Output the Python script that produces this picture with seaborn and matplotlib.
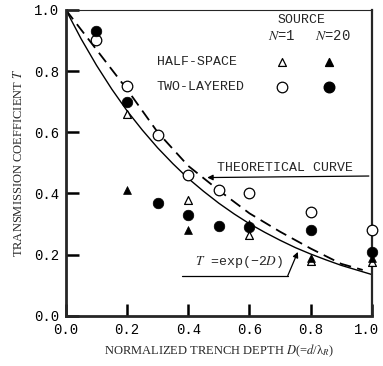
import matplotlib
matplotlib.use("Agg")
import matplotlib.pyplot as plt
import matplotlib.transforms as mtransforms
import seaborn as sns

# ---- data ----
depth_ticks = [0.0, 0.2, 0.4, 0.6, 0.8, 1.0]
tick_labels = ["0.0", "0.2", "0.4", "0.6", "0.8", "1.0"]

two_n1_x = [0.1, 0.2, 0.3, 0.4, 0.5, 0.6, 0.8, 1.0]
two_n1_y = [0.90, 0.75, 0.59, 0.46, 0.41, 0.40, 0.34, 0.28]

two_n20_x = [0.1, 0.2, 0.3, 0.4, 0.5, 0.6, 0.8, 1.0]
two_n20_y = [0.93, 0.70, 0.37, 0.33, 0.295, 0.29, 0.28, 0.21]

half_n1_x = [0.2, 0.4, 0.6, 0.8, 1.0]
half_n1_y = [0.66, 0.38, 0.265, 0.18, 0.175]

half_n20_x = [0.2, 0.4, 0.6, 0.8, 1.0]
half_n20_y = [0.41, 0.28, 0.30, 0.19, 0.19]

theory_x = [0.0, 0.05, 0.1, 0.2, 0.3, 0.4, 0.5, 0.6, 0.7, 0.8, 0.9, 0.97]
theory_y = [1.0, 0.935, 0.87, 0.74, 0.60, 0.49, 0.41, 0.335, 0.275, 0.22, 0.17, 0.15]

exp_x = [0.0, 0.05, 0.1, 0.15, 0.2, 0.25, 0.3, 0.35, 0.4, 0.45, 0.5,
         0.55, 0.6, 0.65, 0.7, 0.75, 0.8, 0.85, 0.9, 0.95, 1.0]
exp_y = [1.000, 0.905, 0.819, 0.741, 0.670, 0.607, 0.549, 0.497, 0.449, 0.407, 0.368,
         0.333, 0.301, 0.273, 0.247, 0.223, 0.202, 0.183, 0.165, 0.150, 0.135]

# ---- style ----
sns.set_style("ticks")
plt.rcParams["font.family"] = ["Liberation Mono", "DejaVu Sans Mono"]
plt.rcParams["mathtext.fontset"] = "stix"

fig = plt.figure(figsize=(3.83, 3.66), dpi=100)
ax = fig.add_axes([0.172, 0.137, 0.799, 0.836])

# curves
sns.lineplot(x=exp_x, y=exp_y, ax=ax, color="black", lw=1.0, sort=False)
sns.lineplot(x=theory_x, y=theory_y, ax=ax, color="black", lw=1.3, sort=False,
             dashes=False)
ax.lines[-1].set_dashes((6.5, 3.5))

ms_c = 58
ms_t = 32
sns.scatterplot(x=two_n1_x, y=two_n1_y, ax=ax, marker="o", s=ms_c,
                facecolor="white", edgecolor="black", linewidth=0.9, clip_on=False, zorder=5)
sns.scatterplot(x=half_n1_x, y=half_n1_y, ax=ax, marker="^", s=ms_t,
                facecolor="white", edgecolor="black", linewidth=0.9, clip_on=False, zorder=5)
sns.scatterplot(x=two_n20_x, y=two_n20_y, ax=ax, marker="o", s=ms_c,
                color="black", edgecolor="black", linewidth=0.5, clip_on=False, zorder=6)
sns.scatterplot(x=half_n20_x, y=half_n20_y, ax=ax, marker="^", s=ms_t,
                color="black", edgecolor="black", linewidth=0.5, clip_on=False, zorder=6)

# legend (drawn as in the original, inside the plot)
ax.text(0.77, 0.966, "SOURCE", fontsize=9.5, ha="center", va="center")
ax.text(0.705, 0.915, "$N$=1", fontsize=10, ha="center", va="center")
ax.text(0.873, 0.915, "$N$=20", fontsize=10, ha="center", va="center")
ax.text(0.297, 0.83, "HALF-SPACE", fontsize=9.5, ha="left", va="center")
ax.text(0.297, 0.749, "TWO-LAYERED", fontsize=9.5, ha="left", va="center")
ax.scatter([0.705], [0.83], marker="^", s=ms_t, facecolor="white", edgecolor="black", linewidth=0.9)
ax.scatter([0.86], [0.83], marker="^", s=ms_t, color="black")
ax.scatter([0.705], [0.749], marker="o", s=ms_c, facecolor="white", edgecolor="black", linewidth=0.9)
ax.scatter([0.86], [0.749], marker="o", s=ms_c, color="black")

# annotations
ax.text(0.715, 0.484, "THEORETICAL CURVE", fontsize=9.5, ha="center", va="center")
ax.annotate("", xy=(0.462, 0.452), xytext=(0.99, 0.457),
            arrowprops=dict(arrowstyle="-|>", color="black", lw=0.9,
                            mutation_scale=8, shrinkA=0, shrinkB=0))
ax.text(0.565, 0.176, "$T$ =exp(−2$D$)", fontsize=9.5, ha="center", va="center")
ax.plot([0.38, 0.725], [0.131, 0.131], color="black", lw=0.9)
ax.annotate("", xy=(0.758, 0.209), xytext=(0.725, 0.131),
            arrowprops=dict(arrowstyle="-|>", color="black", lw=0.9,
                            mutation_scale=8, shrinkA=0, shrinkB=0))

# axes
ax.set_xlim(0, 1.0)
ax.set_ylim(0, 1.0)
ax.set_xticks(depth_ticks)
ax.set_xticklabels(tick_labels)
ax.set_yticks(depth_ticks)
ax.set_yticklabels(tick_labels)
ax.tick_params(direction="in", length=9, width=1.8, labelsize=10, pad=5,
               colors="black")
# keep the last x tick label inside the figure
last = ax.get_xticklabels()[-1]
last.set_transform(last.get_transform() +
                   mtransforms.ScaledTranslation(-5 / 100, 0, fig.dpi_scale_trans))
for side in ["left", "bottom"]:
    ax.spines[side].set_linewidth(2.0)
ax.spines["right"].set_linewidth(1.6)
ax.spines["top"].set_linewidth(0.8)
ax.set_xlabel("NORMALIZED TRENCH DEPTH $D$(=$d$/λ$_R$)", fontsize=9, labelpad=4,
              family=["Liberation Serif", "DejaVu Serif"])
ax.set_ylabel("TRANSMISSION COEFFICIENT $T$", fontsize=9, labelpad=6,
              family=["Liberation Serif", "DejaVu Serif"])

fig.savefig("out.png", dpi=100)
